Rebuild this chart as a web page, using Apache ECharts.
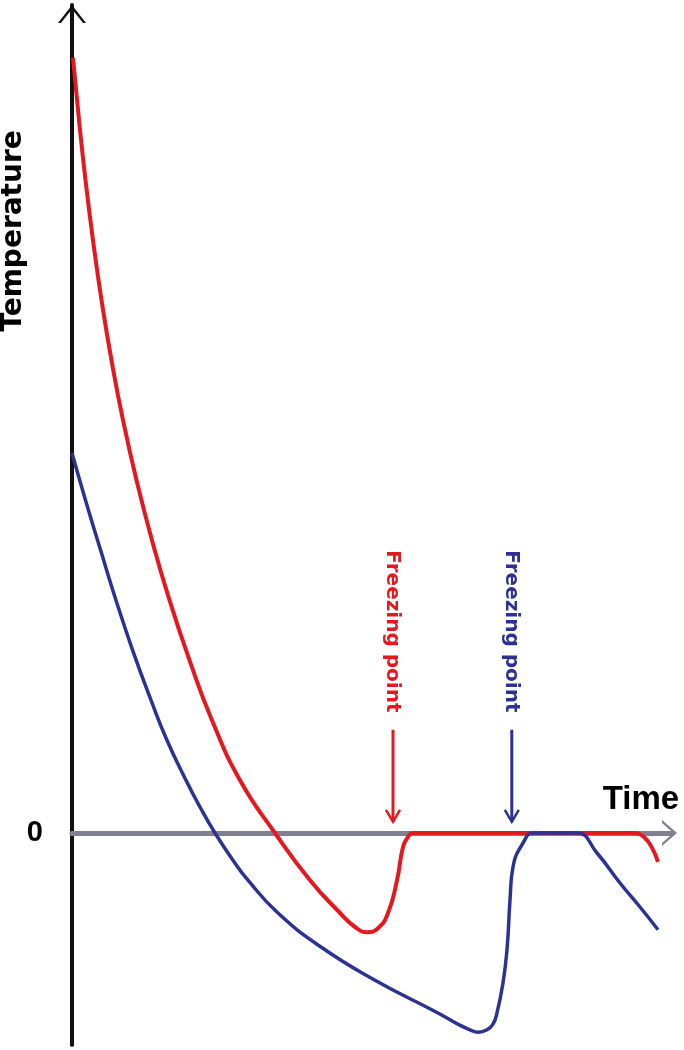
<!DOCTYPE html>
<html><head><meta charset="utf-8">
<script src="https://cdn.jsdelivr.net/npm/echarts@6/dist/echarts.min.js"></script>
<style>html,body{margin:0;padding:0;background:#fff}#c{width:684px;height:1050px}</style>
</head><body><div id="c"></div>
<script>
// ---- data (arbitrary time units, arbitrary temperature units; 0 = freezing) ----
const redTime = [0.17, 1.17, 2.25, 3.5, 4.92, 6.58, 8.5, 10.75, 13.33, 16.25, 19.58, 23.33, 28, 33.83, 39.67, 44.67, 47.17, 49.17, 51, 52.67, 54.17, 55.17, 56, 56.83, 62, 70, 80, 90, 93.83, 97.67];
const redTemp = [96.9, 89.1, 81.6, 74.1, 66.6, 59.1, 51.6, 44.1, 36.6, 29.1, 21.6, 14.1, 6.6, 0, -5.9, -10, -11.75, -12.4, -11.9, -10, -5.9, -1.75, -0.5, 0, 0, 0, 0, 0, 0, -3.6];
const blueTime = [0, 2.25, 4.75, 7.33, 10.08, 13.17, 15.83, 19, 21.33, 23.83, 26.83, 29.33, 34.33, 41.5, 50.5, 61, 64.33, 66.33, 67.67, 69.17, 70.17, 70.83, 71.83, 72.5, 73, 73.5, 75.17, 76.83, 80, 84.17, 87.5, 91.33, 94.67, 97.67];
const blueTemp = [47.5, 41.6, 35.4, 29.1, 22.9, 16.6, 11.6, 6.6, 3.25, 0, -3.4, -5.9, -10, -14.25, -18.4, -22.5, -23.9, -24.6, -24.9, -24.6, -23.9, -22.5, -18.75, -14.6, -8.4, -4.25, -1.25, 0, 0, 0, -2.5, -6.25, -9.25, -12.1];
const freezeTimes = [53.5, 73.3];
const freezeLabels = ['Freezing point', 'Freezing point'];
const yLabelValues = [0];
const yAxisTitle = 'Temperature';
const xAxisTitle = 'Time';

// ---- styles ----
const RED = '#e3191f';
const BLUE = '#2d3192';
const freezeColors = [RED, BLUE];
const ARROW_TOP = 12.9, ARROW_BOTTOM = 1.4, LABEL_CENTER = 25.2;

const chart = echarts.init(document.getElementById('c'), null, {renderer: 'canvas'});
chart.setOption({
  animation: false,
  backgroundColor: '#fff',
  grid: {left: 72, top: 5, width: 600, height: 1040, containLabel: false},
  xAxis: {
    type: 'value', min: 0, max: 100,
    axisLine: {show: true, onZero: true, lineStyle: {color: '#808090', width: 5},
      symbol: ['none', 'path://M0,15 L13,0 L26,15 L23,15 L13,3.5 L3,15 Z'],
      symbolSize: [26, 15], symbolOffset: [0, -2.5]},
    axisTick: {show: false}, axisLabel: {show: false}, splitLine: {show: false}
  },
  yAxis: {
    type: 'value', min: -26.5, max: 103.5,
    axisLine: {show: true, onZero: false, lineStyle: {color: '#111', width: 4},
      symbol: ['none', 'path://M0,18 L14,0 L28,18 L25,18 L14,4 L3,18 Z'],
      symbolSize: [28, 18], symbolOffset: [0, -9]},
    axisTick: {show: false},
    axisLabel: {show: true, customValues: yLabelValues, margin: 29,
      fontFamily: 'Liberation Sans', fontWeight: 'bold', fontSize: 29, color: '#000'},
    splitLine: {show: false}
  },
  graphic: [
    {type: 'text', x: 641, y: 800, z: 10,
      style: {text: xAxisTitle, font: 'bold 33px "Liberation Sans"', fill: '#000', align: 'center', verticalAlign: 'middle'}},
    {type: 'text', x: 14, y: 231, rotation: Math.PI / 2, z: 10,
      style: {text: yAxisTitle, font: 'bold 28px "DejaVu Sans"', fill: '#000', align: 'center', verticalAlign: 'middle'}}
  ],
  series: [
    {type: 'line', data: redTime.map((t, i) => [t, redTemp[i]]), showSymbol: false, smooth: 0.5,
      lineStyle: {color: RED, width: 4}, z: 3},
    {type: 'line', data: blueTime.map((t, i) => [t, blueTemp[i]]), showSymbol: false, smooth: 0.5,
      lineStyle: {color: BLUE, width: 3.5}, z: 4},
    {type: 'custom', data: freezeTimes.map(t => [t, 0]), z: 5, clip: false,
      renderItem: function (params, api) {
        const t = api.value(0);
        const top = api.coord([t, ARROW_TOP]);
        const bot = api.coord([t, ARROW_BOTTOM]);
        const lab = api.coord([t, LABEL_CENTER]);
        const color = freezeColors[params.dataIndex];
        return {type: 'group', children: [
          {type: 'line', shape: {x1: top[0], y1: top[1], x2: bot[0], y2: bot[1]}, style: {stroke: color, lineWidth: 3}},
          {type: 'polyline', shape: {points: [[bot[0] - 7, bot[1] - 12], [bot[0], bot[1]], [bot[0] + 7, bot[1] - 12]]},
            style: {stroke: color, lineWidth: 2.5, fill: null}},
          {type: 'text', x: lab[0] - 1, y: lab[1], rotation: -Math.PI / 2,
            style: {text: freezeLabels[params.dataIndex], fill: color, font: 'bold 20px "DejaVu Sans"', align: 'center', verticalAlign: 'middle'}}
        ]};
      }}
  ]
});
</script>
</body></html>
